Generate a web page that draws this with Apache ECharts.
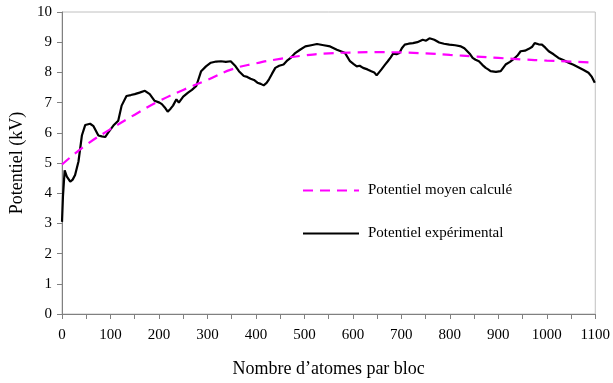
<!DOCTYPE html>
<html><head><meta charset="utf-8">
<script src="https://cdn.jsdelivr.net/npm/echarts@6/dist/echarts.min.js"></script>
<style>html,body{margin:0;padding:0;background:#fff}#c{width:613px;height:383px}</style>
</head><body><div id="c"></div>
<script>
const xTicks = [0,100,200,300,400,500,600,700,800,900,1000,1100];
const yTicks = [0,1,2,3,4,5,6,7,8,9,10];
const seriesNames = ['Potentiel moyen calculé','Potentiel expérimental'];
const meanX = [0,50,100,150,200,250,300,350,400,450,500,550,600,650,700,750,800,850,900,950,1000,1050,1090];
const meanY = [4.95,5.6,6.12,6.6,7.05,7.42,7.75,8.1,8.3,8.45,8.56,8.63,8.66,8.67,8.66,8.63,8.58,8.53,8.48,8.43,8.39,8.36,8.33];
const expX = [0,2,5.5,10,17,22,27,34,41,48,58,65,75,82,89,96,106,116,123,133,142,150,160,171,181,191,201,206,212,218,224,229,236,241,250,260,268,277,287,297,307,318,328,338,348,358,365,375,382,389,396,403,410,416,422,427,433,440,448,457,465,473,481,491,502,514,526,540,553,567,575,584,594,601,608,614,621,630,638,644,649,654,659,666,672,678,683,690,696,701,707,715,724,733,744,751,758,768,778,788,799,811,823,830,836,842,847,853,860,867,874,879,884,895,905,910,915,924,932,939,946,955,963,970,975,983,990,997,1004,1014,1024,1035,1045,1055,1065,1076,1086,1093,1099];
const expY = [3.05,3.9,4.76,4.55,4.38,4.45,4.6,5.05,5.91,6.26,6.3,6.22,5.91,5.88,5.86,6.02,6.24,6.4,6.9,7.22,7.25,7.28,7.33,7.39,7.28,7.06,7.0,6.95,6.84,6.7,6.8,6.9,7.11,7.0,7.2,7.33,7.42,7.55,8.04,8.2,8.32,8.36,8.37,8.35,8.37,8.2,8.04,7.88,7.85,7.79,7.75,7.66,7.62,7.57,7.65,7.77,7.95,8.15,8.22,8.26,8.4,8.5,8.64,8.75,8.86,8.9,8.94,8.9,8.86,8.75,8.7,8.64,8.37,8.28,8.2,8.22,8.15,8.1,8.04,8.0,7.9,8.0,8.1,8.25,8.37,8.5,8.62,8.6,8.64,8.8,8.92,8.95,8.97,9.0,9.08,9.05,9.13,9.08,8.99,8.95,8.92,8.9,8.86,8.8,8.7,8.6,8.48,8.42,8.37,8.25,8.15,8.1,8.04,8.02,8.04,8.15,8.26,8.35,8.45,8.55,8.7,8.72,8.78,8.85,8.97,8.93,8.92,8.82,8.7,8.6,8.48,8.4,8.32,8.25,8.17,8.08,7.99,7.85,7.66];
const meanData = meanX.map((x,i)=>[x,meanY[i]]);
const expData = expX.map((x,i)=>[x,expY[i]]);
const font = 'Liberation Serif';
const chart = echarts.init(document.getElementById('c'));
chart.setOption({
  animation:false,
  backgroundColor:'#fff',
  grid:{left:60,right:16,top:12,bottom:66,show:true,borderColor:'#c0c0c0',borderWidth:1},
  legend:{
    orient:'vertical', left:297, top:178, itemWidth:56, itemHeight:14, itemGap:28,
    textStyle:{fontFamily:font,fontSize:15,color:'#000',padding:[0,0,0,4]},
    itemStyle:{color:'transparent',borderColor:'transparent',borderWidth:0,opacity:0},
    data:seriesNames
  },
  xAxis:{
    type:'value', min:0, max:1100, interval:100,
    name:'Nombre d’atomes par bloc', nameLocation:'middle', nameGap:46,
    nameTextStyle:{fontFamily:font,fontSize:18,color:'#000'},
    axisLine:{lineStyle:{color:'#808080',width:1}},
    axisTick:{show:true,length:5,lineStyle:{color:'#808080'}},
    minorTick:{show:true,splitNumber:2,length:5,lineStyle:{color:'#808080'}},
    axisLabel:{fontFamily:font,fontSize:15,color:'#000',margin:14,
      formatter:v=>xTicks.includes(v)?String(v):''},
    splitLine:{show:false}
  },
  yAxis:{
    type:'value', min:0, max:10, interval:1,
    name:'Potentiel (kV)', nameLocation:'middle', nameGap:36,
    nameTextStyle:{fontFamily:font,fontSize:18,color:'#000'},
    axisLine:{show:true,lineStyle:{color:'#808080',width:1}},
    axisTick:{show:true,length:5,lineStyle:{color:'#808080'}},
    axisLabel:{fontFamily:font,fontSize:15,color:'#000',margin:10,
      formatter:v=>yTicks.includes(v)?String(v):''},
    splitLine:{show:false}
  },
  series:[
    {name:seriesNames[0],type:'line',data:meanData,smooth:true,symbol:'none',
     lineStyle:{color:'#ff00ff',width:2.2,type:[10,7]},itemStyle:{color:'#ff00ff'},z:3},
    {name:seriesNames[1],type:'line',data:expData,symbol:'none',
     lineStyle:{color:'#000',width:2.2},itemStyle:{color:'#000'},z:2}
  ]
});
</script></body></html>
